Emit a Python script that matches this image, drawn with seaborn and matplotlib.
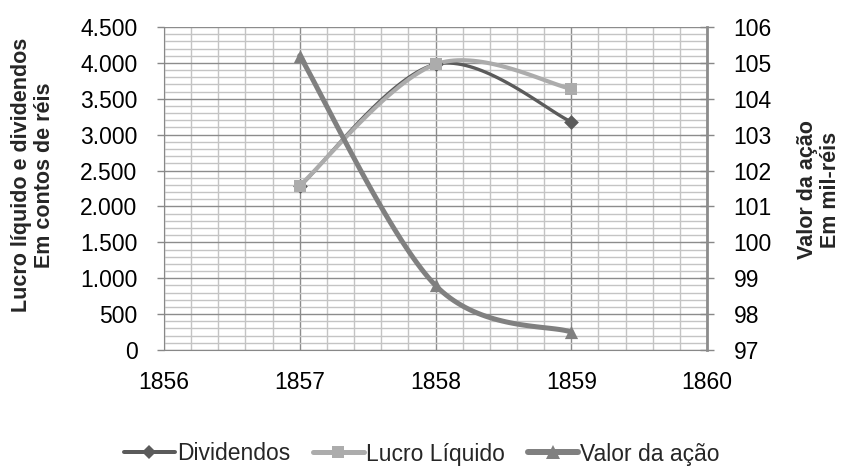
import numpy as np
import pandas as pd
import matplotlib
matplotlib.use("Agg")
import matplotlib.pyplot as plt
from matplotlib.ticker import MultipleLocator, FuncFormatter
from matplotlib.lines import Line2D
import seaborn as sns

years = [1857, 1858, 1859]
dividendos = [2280, 3980, 3180]
lucro_liquido = [2290, 3980, 3640]
valor_acao = [105.2, 98.8, 97.5]

series_names = ["Dividendos", "Lucro Líquido", "Valor da ação"]
colors = {"Dividendos": "#5b5b5b", "Lucro Líquido": "#acacac", "Valor da ação": "#808080"}

sns.set_style("white")
plt.rcParams["font.family"] = ["Liberation Sans", "DejaVu Sans"]


def smooth(xs, ys, n=40):
    """Excel-style Catmull-Rom/Bezier smoothing through the given points."""
    xs = np.asarray(xs, float)
    ys = np.asarray(ys, float)
    P = np.column_stack([xs, ys])
    out = [P[0]]
    for i in range(len(P) - 1):
        p0 = P[i - 1] if i > 0 else P[i]
        p1, p2 = P[i], P[i + 1]
        p3 = P[i + 2] if i + 2 < len(P) else P[i + 1]
        b1 = p1 + (p2 - p0) / 6.0
        b2 = p2 - (p3 - p1) / 6.0
        t = np.linspace(0, 1, n)[1:, None]
        seg = ((1 - t) ** 3) * p1 + 3 * ((1 - t) ** 2) * t * b1 + 3 * (1 - t) * t ** 2 * b2 + t ** 3 * p2
        out.extend(seg)
    out = np.array(out)
    return out[:, 0], out[:, 1]


fig = plt.figure(figsize=(8.44, 4.66), dpi=100)
ax = fig.add_axes([164 / 844, 1 - 350 / 466, (707 - 164) / 844, (350 - 27) / 466])
ax2 = ax.twinx()

ax.set_xlim(1856, 1860)
ax.set_ylim(0, 4500)
ax2.set_ylim(97, 106)

# grid
ax.xaxis.set_major_locator(MultipleLocator(1))
ax.xaxis.set_minor_locator(MultipleLocator(0.2))
ax.yaxis.set_major_locator(MultipleLocator(500))
ax.yaxis.set_minor_locator(MultipleLocator(100))
ax.grid(which="minor", color="#c4c4c4", linewidth=1.0)
ax.grid(which="major", color="#8c8c8c", linewidth=1.0)
ax.set_axisbelow(True)
ax2.yaxis.set_major_locator(MultipleLocator(1))
ax2.yaxis.set_minor_locator(MultipleLocator(0.2))

# lines (smoothed) and markers
lw = {"Dividendos": 2.4, "Lucro Líquido": 3.0, "Valor da ação": 3.6}
mk = {"Dividendos": ("D", 7.5), "Lucro Líquido": ("s", 8.5), "Valor da ação": ("^", 9.5)}

for name, vals, a in [("Dividendos", dividendos, ax), ("Lucro Líquido", lucro_liquido, ax)]:
    sx, sy = smooth(years, vals)
    a.plot(sx, sy, color=colors[name], lw=lw[name], solid_capstyle="round", zorder=3)
    df = pd.DataFrame({"ano": years, "v": vals})
    sns.scatterplot(data=df, x="ano", y="v", ax=a, marker=mk[name][0], s=mk[name][1] ** 2,
                    color=colors[name], edgecolor=colors[name], linewidth=0, zorder=4, legend=False)

sx, sy = smooth(years, valor_acao)
ax2.plot(sx, sy, color=colors["Valor da ação"], lw=lw["Valor da ação"], solid_capstyle="round", zorder=3)
df = pd.DataFrame({"ano": years, "v": valor_acao})
sns.scatterplot(data=df, x="ano", y="v", ax=ax2, marker="^", s=mk["Valor da ação"][1] ** 2,
                color=colors["Valor da ação"], edgecolor=colors["Valor da ação"], linewidth=0,
                zorder=4, legend=False)

ax.set_xlabel("")
ax.set_ylabel("")
ax2.set_xlabel("")
ax2.set_ylabel("")

# ticks & labels
fs = 16.5
fmt = FuncFormatter(lambda v, p: f"{int(round(v)):,}".replace(",", "."))
ax.yaxis.set_major_formatter(fmt)
ax.set_xticks([1856, 1857, 1858, 1859, 1860])
ax.set_xticklabels(["1856", "1857", "1858", "1859", "1860"])
ax.tick_params(axis="both", which="major", labelsize=fs, colors="#888888", labelcolor="black",
               length=5, width=1, direction="out")
ax.tick_params(axis="y", which="major", pad=14)
ax.tick_params(axis="x", which="major", pad=10)
ax.tick_params(which="minor", length=0)
ax2.tick_params(axis="y", which="major", labelsize=fs, colors="#888888", labelcolor="black",
                length=10, width=1, direction="inout", pad=14)
ax2.tick_params(axis="y", which="minor", length=0)

for s in ["top"]:
    ax.spines[s].set_visible(False)
    ax2.spines[s].set_visible(False)
ax.spines["left"].set_color("#888888")
ax.spines["bottom"].set_color("#888888")
ax.spines["right"].set_visible(False)
ax2.spines["left"].set_visible(False)
ax2.spines["bottom"].set_visible(False)
ax2.spines["right"].set_color("#8c8c8c")
ax2.spines["right"].set_linewidth(2.0)

fig.text(33 / 844, 1 - 175 / 466, "Lucro líquido e dividendos\nEm contos de réis", rotation=90,
         ha="center", va="center", fontsize=15.5, fontweight="bold", linespacing=1.1)
fig.text(819 / 844, 1 - 190 / 466, "Valor da ação\nEm mil-réis", rotation=90,
         ha="center", va="center", fontsize=15.5, fontweight="bold", linespacing=1.1)

handles = [Line2D([0], [0], color=colors[n], lw=lw[n] * 1.2, marker=mk[n][0], markersize=mk[n][1],
                  markeredgewidth=0) for n in series_names]
fig.legend(handles, series_names, loc="center", bbox_to_anchor=(422 / 844, 1 - 454 / 466), ncol=3,
           frameon=False, fontsize=16.5, handlelength=2.2, handletextpad=0.1, columnspacing=1.0)

fig.savefig("out.png", dpi=100)
